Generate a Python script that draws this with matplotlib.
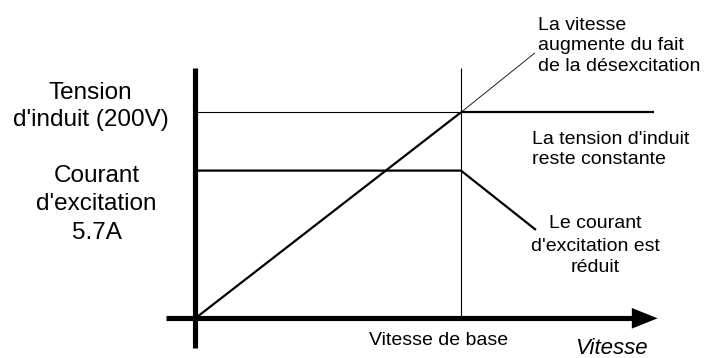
import matplotlib
matplotlib.use("Agg")
import matplotlib.pyplot as plt
from matplotlib.patches import Polygon

plt.rcParams['font.family'] = ['Liberation Sans', 'DejaVu Sans']

# ---- data (normalised units: base speed = 1, armature voltage 200 V = 1) ----
base_speed = 1.0
voltage_level = 1.0          # 200 V
current_level = 0.717        # 5.7 A
speed_axis_end = 1.74

# armature voltage (increasing then constant)
v_speed_rise = [0.0, 1.0]
v_value_rise = [0.0, 1.0]
v_speed_ext = [1.0, 1.278]   # thin continuation (speed rises by field weakening)
v_value_ext = [1.0, 1.288]
v_speed_const = [1.0, 1.726]
v_value_const = [1.0, 1.0]

# field current (constant then reduced)
i_speed = [0.0, 1.0, 1.282]
i_value = [0.717, 0.717, 0.429]

W, H = 712, 358
fig = plt.figure(figsize=(W / 100, H / 100), dpi=100)
ax = fig.add_axes([0, 0, 1, 1])
X0, Y0, SX, SY = 195.3, 318.3, 265.7, 206.0
ax.set_xlim(-X0 / SX, (W - X0) / SX)
ax.set_ylim((Y0 - H) / SY, Y0 / SY)
ax.axis('off')

# guide lines (thin)
ax.plot([0, base_speed], [voltage_level, voltage_level], color='black', lw=0.8,
        solid_capstyle='butt')
ax.plot([base_speed, base_speed], [0, 1.215], color='black', lw=0.8,
        solid_capstyle='butt')

# curves
ax.plot(v_speed_rise, v_value_rise, color='black', lw=1.6, solid_capstyle='butt')
ax.plot(v_speed_ext, v_value_ext, color='black', lw=0.6, solid_capstyle='butt')
ax.plot(v_speed_const, v_value_const, color='black', lw=1.6, solid_capstyle='butt')
ax.plot(i_speed, i_value, color='black', lw=1.6, solid_capstyle='butt',
        solid_joinstyle='miter')

# axes
ax.plot([0, 0], [-0.143, 1.215], color='black', lw=3.7, solid_capstyle='butt')
head_len = 0.097
ax.plot([-0.110, speed_axis_end - head_len], [0, 0], color='black', lw=3.7,
        solid_capstyle='butt')
ax.add_patch(Polygon([[speed_axis_end - head_len, 0.050],
                      [speed_axis_end, 0.0],
                      [speed_axis_end - head_len, -0.050]],
                     closed=True, color='black', lw=0))


def txt(x, y, s, size=14, ha='left', **kw):
    fig.text(x / W, 1 - y / H, s, fontsize=size, ha=ha, va='baseline', **kw)


# left labels
txt(90.5, 98.7, "Tension", 17.5, 'center')
txt(90.5, 126, "d'induit (200V)", 17.5, 'center')
txt(96.5, 182, "Courant", 17.5, 'center')
txt(96.5, 210.5, "d'excitation", 17.5, 'center')
txt(96.5, 239.3, "5.7A", 17.5, 'center')

# right annotations
txt(538, 30, "La vitesse")
txt(538, 50, "augmente du fait")
txt(538, 71, "de la désexcitation")
txt(531.5, 144, "La tension d'induit")
txt(531.5, 164, "reste constante")
txt(595, 228, "Le courant", ha='center')
txt(595, 250.7, "d'excitation est", ha='center')
txt(595, 271.7, "réduit", ha='center')
txt(438.5, 345, "Vitesse de base", ha='center')
txt(611.5, 353.5, "Vitesse", 16, 'center', style='italic')

fig.savefig("out.png", dpi=100)
